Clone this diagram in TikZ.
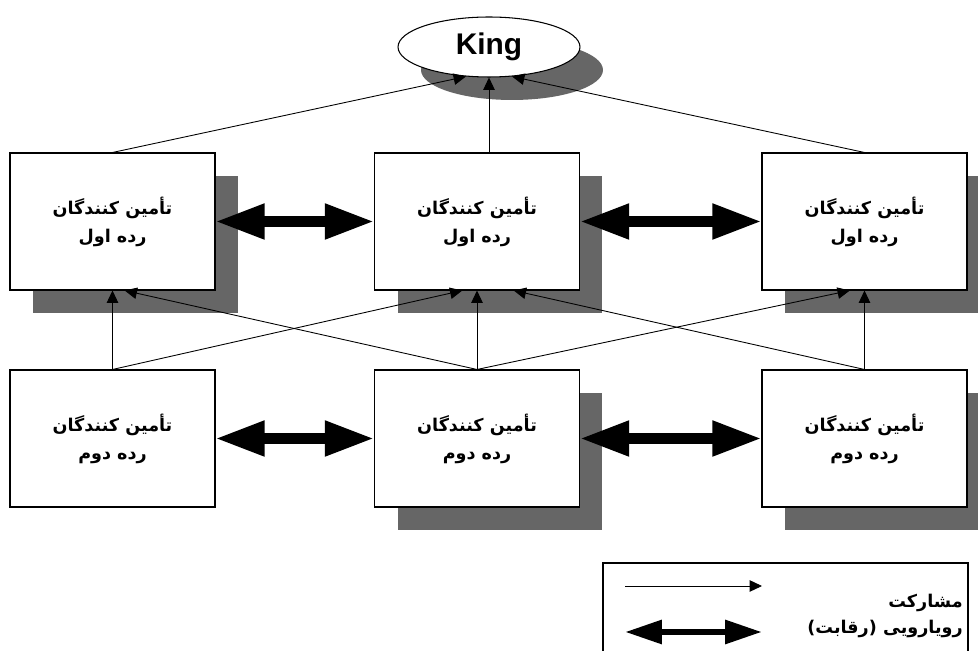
\documentclass[tikz,border=0pt]{standalone}
\usepackage{fontspec}
\setmainfont{Liberation Sans}
\newfontfamily\farsi[Script=Arabic]{DejaVu Sans}
\TeXXeTstate=1
\usetikzlibrary{arrows.meta,shadows,shapes.geometric}

\definecolor{shadowgray}{RGB}{102,102,102}
\newcommand\rtltext[1]{\beginR #1\endR}

\tikzset{
	supplier/.style={draw, fill=white, line width=0.6pt, minimum width=4.1cm, minimum height=2.74cm,
		align=center, font=\farsi\bfseries\fontsize{10}{16}\selectfont},
	shadowed/.style={drop shadow={shadow xshift=0.46cm, shadow yshift=-0.46cm, fill=shadowgray, opacity=1}},
	link/.style={-{Triangle[length=7pt,width=6.5pt]}, line width=0.5pt},
	rival/.style={{Triangle[length=28pt,width=19pt]}-{Triangle[length=28pt,width=19pt]}, line width=5.7pt},
	legendrival/.style={{Triangle[length=21pt,width=13pt]}-{Triangle[length=21pt,width=13pt]}, line width=3.6pt},
	legendtext/.style={anchor=east, inner sep=0pt, font=\farsi\bfseries\fontsize{10}{12}\selectfont}
}

\begin{document}
\begin{tikzpicture}[x=0.02cm, y=-0.02cm]
	\clip (0,0) rectangle (978,651);
	% the king on top
	\node[draw, ellipse, fill=white, shadowed, line width=0.6pt, minimum width=3.64cm, minimum height=1.2cm,
		font=\bfseries\fontsize{17}{17}\selectfont] (king) at (489,47) {King};
	% first tier suppliers
	\node[supplier, shadowed] (first1) at (112.5,221.5) {\rtltext{تأمین کنندگان}\\\rtltext{رده اول}};
	\node[supplier, shadowed] (first2) at (477,221.5) {\rtltext{تأمین کنندگان}\\\rtltext{رده اول}};
	\node[supplier, shadowed] (first3) at (864.5,221.5) {\rtltext{تأمین کنندگان}\\\rtltext{رده اول}};
	% second tier suppliers
	\node[supplier] (second1) at (112.5,438.5) {\rtltext{تأمین کنندگان}\\\rtltext{رده دوم}};
	\node[supplier, shadowed] (second2) at (477,438.5) {\rtltext{تأمین کنندگان}\\\rtltext{رده دوم}};
	\node[supplier, shadowed] (second3) at (864.5,438.5) {\rtltext{تأمین کنندگان}\\\rtltext{رده دوم}};

	% partnership links
	\draw[link] (first1.north) -- (king.232);
	\draw[link] (first2.north -| king) -- (king.south);
	\draw[link] (first3.north) -- (king.308);
	\draw[link] (second1.north) -- (first1.south);
	\draw[link] (second1.north) -- (first2.258);
	\draw[link] (second2.north) -- (first1.280);
	\draw[link] (second2.north) -- (first2.south);
	\draw[link] (second2.north) -- (first3.258);
	\draw[link] (second3.north) -- (first2.298);
	\draw[link] (second3.north) -- (first3.south);

	% rivalry
	\draw[rival] (first1.east) -- (first2.west);
	\draw[rival] (first2.east) -- (first3.west);
	\draw[rival] (second1.east) -- (second2.west);
	\draw[rival] (second2.east) -- (second3.west);

	% legend
	\draw[line width=0.6pt] (603,563) rectangle (968,700);
	\coordinate (shareA) at (625,586);
	\coordinate (shareB) at (762,586);
	\coordinate (rivalA) at (625,632);
	\coordinate (rivalB) at (762,632);
	\draw[link] (shareA) -- (shareB);
	\draw[legendrival] (rivalA) -- (rivalB);
	\node[legendtext] (shareText) at (963,603) {\rtltext{مشارکت}};
	\node[legendtext] (rivalText) at (963,629) {\rtltext{رویارویی (رقابت)}};
\end{tikzpicture}
\end{document}
